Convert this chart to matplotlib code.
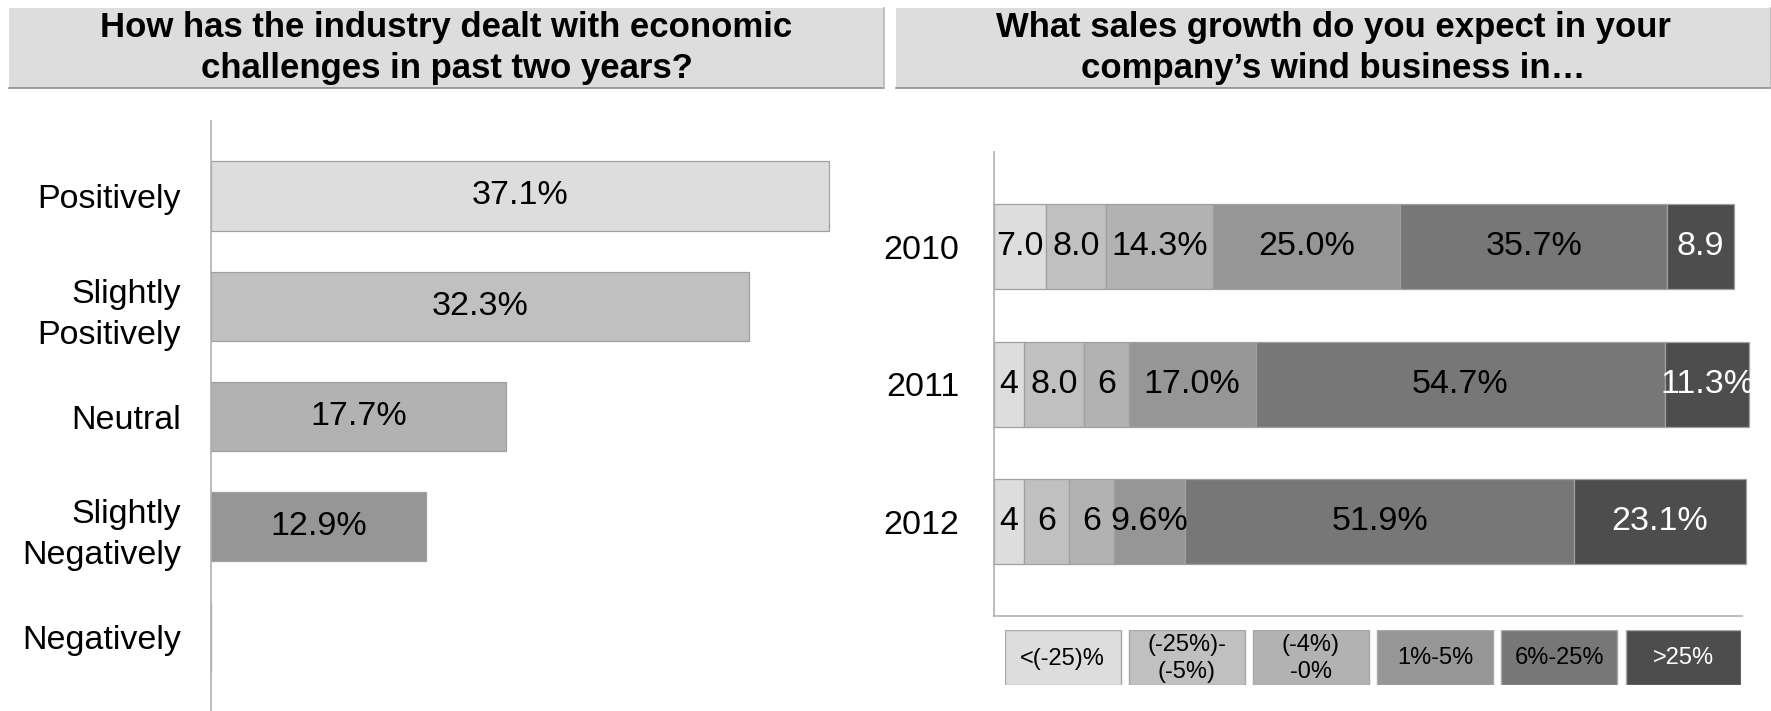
import matplotlib
matplotlib.use("Agg")
import matplotlib.pyplot as plt
from matplotlib.patches import Rectangle

plt.rcParams['font.family'] = ['Liberation Sans', 'DejaVu Sans']

# ---- data -------------------------------------------------------------
left_title = "How has the industry dealt with economic\nchallenges in past two years?"
right_title = "What sales growth do you expect in your\ncompany\u2019s wind business in\u2026"

impact_categories = ["Positively", "Slightly\nPositively", "Neutral",
                     "Slightly\nNegatively", "Negatively"]
impact_values = [37.1, 32.3, 17.7, 12.9, 0.0]
impact_colors = ["#DDDDDD", "#C0C0C0", "#B2B2B2", "#969696", "#777777"]

years = ["2010", "2011", "2012"]
growth_bands = ["<(-25)%", "(-25%)-\n(-5%)", "(-4%)\n-0%", "1%-5%", "6%-25%", ">25%"]
growth_colors = ["#DDDDDD", "#C0C0C0", "#B2B2B2", "#969696", "#777777", "#4D4D4D"]
growth_text_colors = ["black", "black", "black", "black", "black", "white"]
growth_2010 = [7.0, 8.0, 14.3, 25.0, 35.7, 8.9]
growth_2011 = [4, 8.0, 6, 17.0, 54.7, 11.3]
growth_2012 = [4, 6, 6, 9.6, 51.9, 23.1]
labels_2010 = ["7.0", "8.0", "14.3%", "25.0%", "35.7%", "8.9"]
labels_2011 = ["4", "8.0", "6", "17.0%", "54.7%", "11.3%"]
labels_2012 = ["4", "6", "6", "9.6%", "51.9%", "23.1%"]

# ---- figure -----------------------------------------------------------
W, H = 1771, 711
fig = plt.figure(figsize=(W / 100, H / 100), dpi=100)
fig.patch.set_facecolor("white")


def box(x0, y0, x1, y1):
    """Figure-fraction rectangle from pixel edges (y measured from top)."""
    return [x0 / W, 1 - y1 / H, (x1 - x0) / W, (y1 - y0) / H]


FS = 24.5
EDGE = "#A0A0A0"
AXIS = "#B0B0B0"

# header panels
for (x0, x1), title in [((9, 884), left_title), ((896, 1771), right_title)]:
    fig.patches.append(Rectangle((x0 / W, 1 - 88 / H), (x1 - x0) / W, 80 / H,
                                 transform=fig.transFigure, facecolor="#DDDDDD",
                                 edgecolor="none", zorder=0))
    fig.lines.append(plt.Line2D([x0 / W, x1 / W], [1 - 88 / H, 1 - 88 / H],
                                transform=fig.transFigure, color="#8C8C8C", lw=1.2))
    fig.lines.append(plt.Line2D([x1 / W, x1 / W], [1 - 88 / H, 1 - 8 / H],
                                transform=fig.transFigure, color="#B8B8B8", lw=1.2))
    fig.text((x0 + x1) / 2 / W, 1 - 48 / H, title, ha="center", va="center",
             fontsize=25, fontweight="bold", linespacing=1.33)

# ---- left: impact bars ------------------------------------------------
axl = fig.add_axes(box(211, 121, 877, 711))
ypos = range(len(impact_categories))
axl.barh(ypos, impact_values, height=0.627, color=impact_colors,
         edgecolor=EDGE, linewidth=0.9)
for y, v in zip(ypos, impact_values):
    if v > 0:
        axl.text(v / 2, y, f"{v:.1f}%", ha="center", va="center", fontsize=FS)
axl.set_xlim(0, 40)
axl.set_ylim(4.67, -0.68)
axl.set_yticks(list(ypos))
axl.set_yticklabels(impact_categories, fontsize=FS, linespacing=1.42)
axl.tick_params(axis="y", length=0, pad=21.5)
axl.set_xticks([])
for s in ["top", "right", "bottom"]:
    axl.spines[s].set_visible(False)
axl.spines["left"].set_color(AXIS)
axl.spines["left"].set_linewidth(1.2)

# ---- right: stacked growth bars ---------------------------------------
axr = fig.add_axes(box(994, 152, 1742, 616))
rows = [growth_2010, growth_2011, growth_2012]
row_labels = [labels_2010, labels_2011, labels_2012]
for y, (vals, labs) in enumerate(zip(rows, row_labels)):
    left = 0.0
    for v, lab, c, tc in zip(vals, labs, growth_colors, growth_text_colors):
        axr.barh(y, v, left=left, height=0.618, color=c, edgecolor=EDGE,
                 linewidth=0.9, clip_on=False)
        axr.text(left + v / 2, y, lab, ha="center", va="center",
                 fontsize=FS, color=tc, clip_on=False)
        left += v
axr.set_xlim(0, 100)
axr.set_ylim(2.684, -0.687)
axr.set_yticks(range(len(years)))
axr.set_yticklabels(years, fontsize=FS)
axr.tick_params(axis="y", length=0, pad=25)
axr.set_xticks([])
for s in ["top", "right"]:
    axr.spines[s].set_visible(False)
for s in ["left", "bottom"]:
    axr.spines[s].set_color(AXIS)
    axr.spines[s].set_linewidth(1.2)

# ---- legend row -------------------------------------------------------
axg = fig.add_axes(box(1005, 630, 1741, 685))
axg.set_xlim(0, 736)
axg.set_ylim(0, 55)
axg.axis("off")
bw, gap = 115.5, 8.6
for i, (lab, c, tc) in enumerate(zip(growth_bands, growth_colors, growth_text_colors)):
    x = i * (bw + gap)
    axg.add_patch(Rectangle((x, 0), bw, 55, facecolor=c, edgecolor="#A8A8A8",
                            linewidth=1.0))
    axg.text(x + bw / 2, 26.5, lab, ha="center", va="center", fontsize=17,
             color=tc, linespacing=1.3, clip_on=False)

fig.savefig("out.png", dpi=100, facecolor="white")
